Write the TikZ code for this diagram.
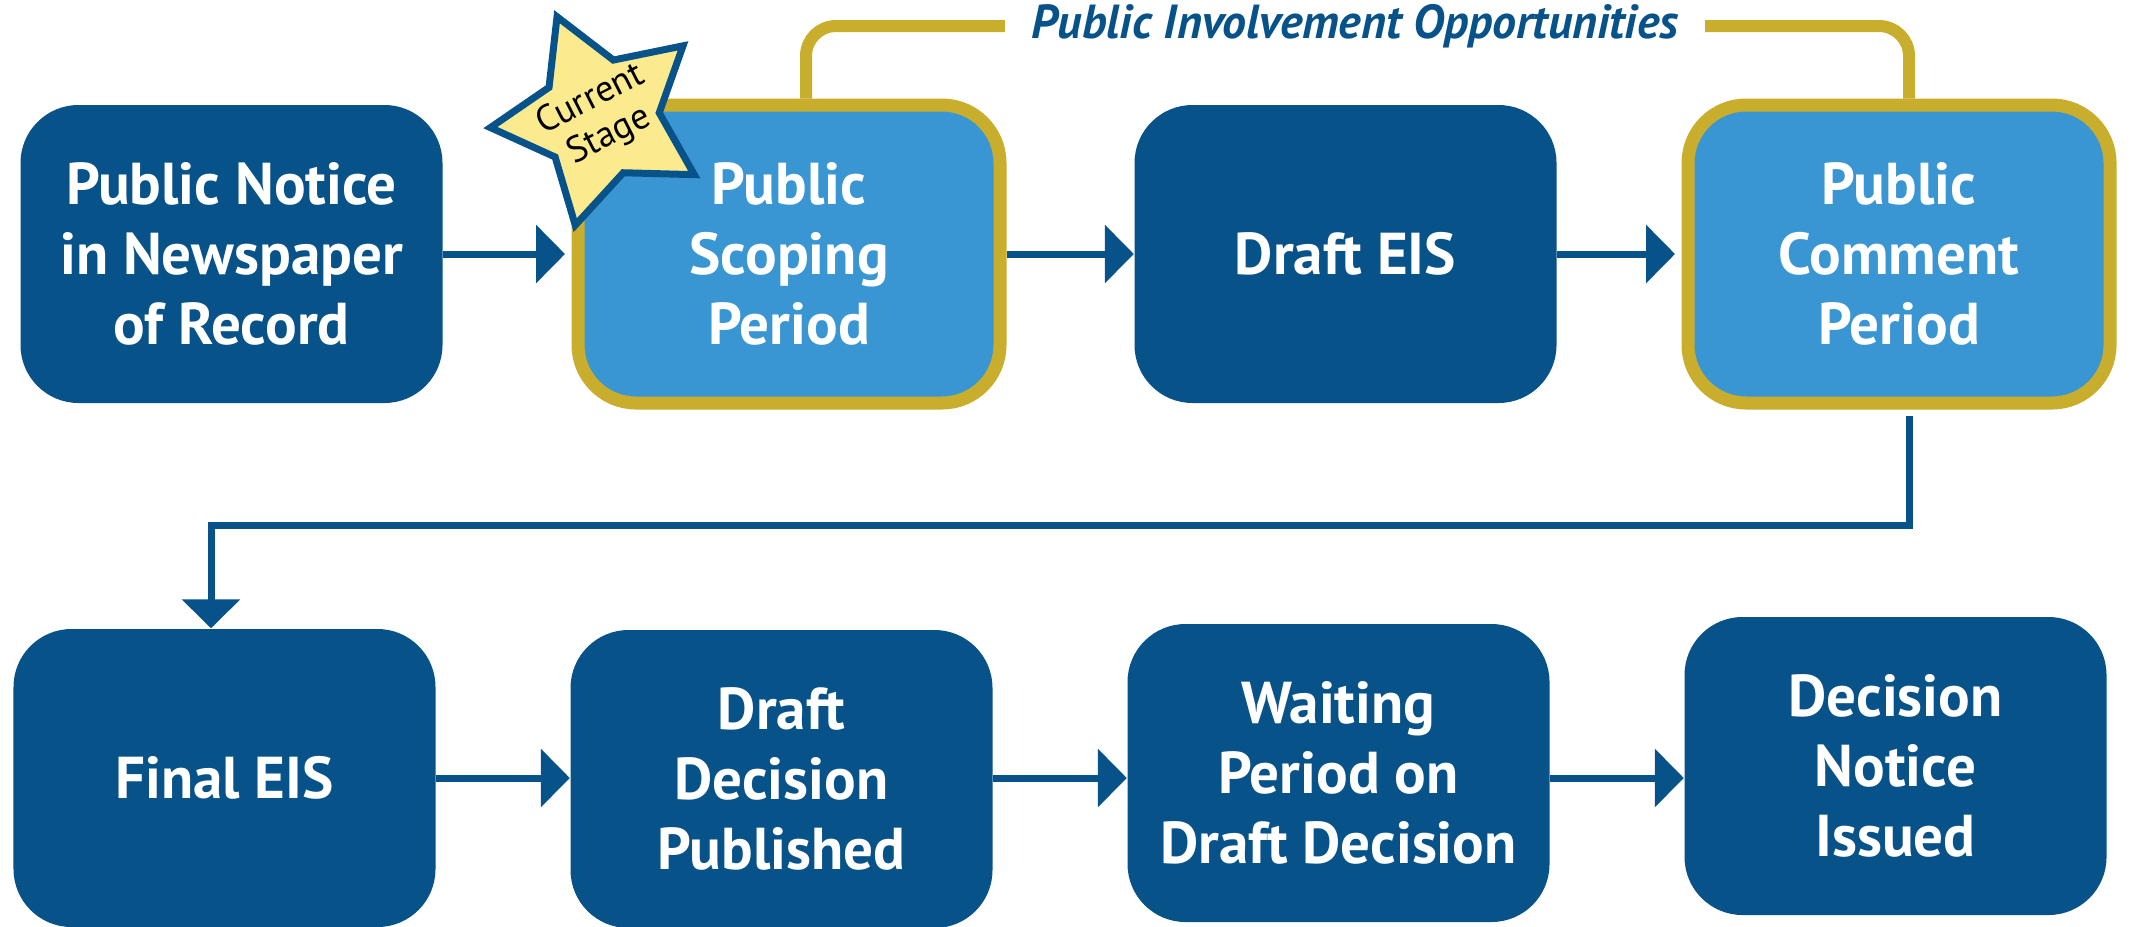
\documentclass[tikz,border=0pt]{standalone}
\usepackage{fontspec}
\setmainfont{PT Sans}
\usetikzlibrary{arrows.meta,shapes.geometric,calc}

\definecolor{epablue}{HTML}{08528A}
\definecolor{litblue}{HTML}{3A96D3}
\definecolor{gold}{HTML}{C9AE2E}
\definecolor{starfill}{HTML}{FBEA8E}

\tikzset{
    stage/.style={fill=epablue,text=white,rounded corners=0.58cm,minimum width=4.22cm,minimum height=2.98cm,
        align=center,font=\bfseries\fontsize{16.8}{20}\selectfont},
    openstage/.style={stage,fill=litblue,draw=gold,line width=0.13cm},
    flow/.style={draw=epablue,line width=0.07cm,-{Triangle[length=0.29cm,width=0.57cm]}},
    bracket/.style={draw=gold,line width=0.12cm,rounded corners=0.3cm},
}

\begin{document}
\begin{tikzpicture}
    \useasboundingbox (0,0) rectangle (21.31,-9.26);
    % top row
    \node[stage] (notice) at (2.315,-2.54) {Public Notice\\in Newspaper\\of Record};
    \node[openstage] (scoping) at (7.89,-2.54) {Public\\Scoping\\Period};
    \node[stage] (draft) at (13.455,-2.54) {Draft EIS};
    \node[openstage] (comment) at (18.99,-2.54) {Public\\Comment\\Period};
    \draw[flow,shorten >=0.065cm](notice)--(scoping);
    \draw[flow](scoping.east)--(draft.west);
    \draw[flow,shorten >=0.065cm](draft)--(comment);
    % public involvement bracket
    \node[text=epablue,inner xsep=0.26cm,font=\bfseries\itshape\fontsize{13.6}{16}\selectfont] (involve) at (13.55,-0.26) {Public Involvement Opportunities};
    \draw[bracket]($(scoping.north)+(0.17,0)$)|-(involve.west);
    \draw[bracket](involve.east)-|($(comment.north)+(0.1,0)$);
    % current stage star
    \node[star,star points=5,star point ratio=1.85,minimum size=2.2cm,inner sep=0pt,fill=starfill,draw=epablue,line width=0.07cm,rotate=23] (current) at (6.00,-1.18) {};
    \node[rotate=27,align=center,font=\fontsize{10.4}{11.6}\selectfont] at (current) {Current\\Stage};
    % bottom row
    \node[stage] (final) at (2.245,-7.78) {Final EIS};
    \node[stage] (decision) at (7.815,-7.79) {Draft\\Decision\\Published};
    \node[stage] (waiting) at (13.385,-7.73) {Waiting\\Period on\\Draft Decision};
    \node[stage] (issued) at (18.955,-7.66) {Decision\\Notice\\Issued};
    \coordinate (bend) at (2.11,-5.25);
    \coordinate (row) at (0,-7.78);
    \draw[flow]($(comment.south)+(0.1,-0.065)$)|-(bend)--(bend|-final.north);
    \draw[flow](final.east|-row)--(decision.west|-row);
    \draw[flow](decision.east|-row)--(waiting.west|-row);
    \draw[flow](waiting.east|-row)--(issued.west|-row);
\end{tikzpicture}
\end{document}
